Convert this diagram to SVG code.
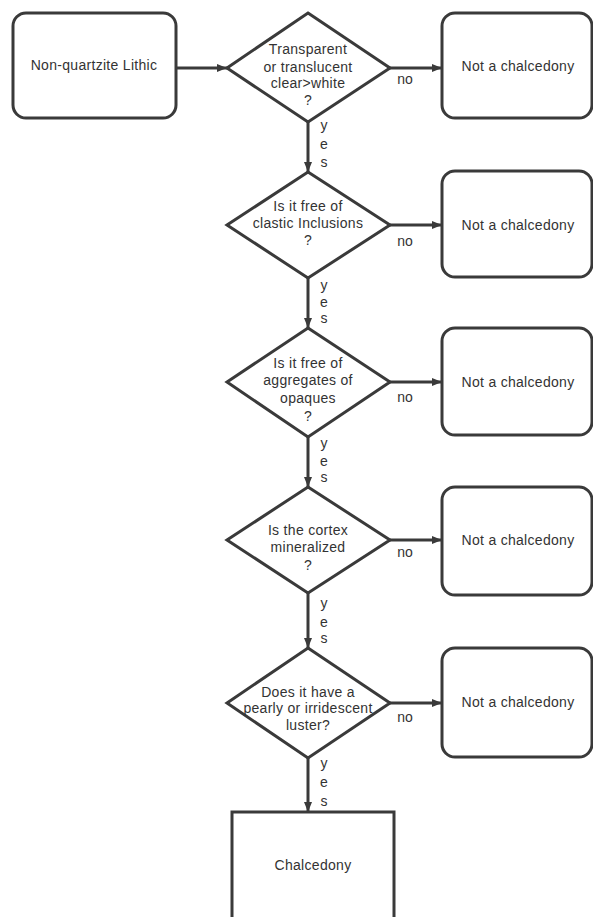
<svg xmlns="http://www.w3.org/2000/svg" width="593" height="917" viewBox="0 0 593 917">
<style>
.box{fill:#fff;stroke:#3a3a3a;stroke-width:3}
.dia{fill:#fff;stroke:#3a3a3a;stroke-width:3;stroke-linejoin:miter}
.t{font-family:"Liberation Sans",Arial,sans-serif;font-size:14px;fill:#333;text-anchor:middle;letter-spacing:0.3px}
.lbl{font-family:"Liberation Sans",Arial,sans-serif;font-size:14px;fill:#333;text-anchor:middle}
.edge{stroke:#3a3a3a;stroke-width:3;fill:none}
</style>
<defs>
<marker id="ah" markerWidth="10" markerHeight="8" refX="10" refY="4" orient="auto" markerUnits="userSpaceOnUse">
<path d="M0,0 L10,4 L0,8 Z" fill="#3a3a3a"/>
</marker>
</defs>
<rect width="593" height="917" fill="#fff"/>

<g id="start">
<rect class="box" x="13" y="13" width="163" height="105" rx="13"/>
<text class="t" x="94" y="70">Non-quartzite Lithic</text>
</g>

<g id="d1">
<polygon class="dia" points="308,13 390,68 308,122 227,68"/>
<text class="t" x="308" y="54">Transparent</text>
<text class="t" x="308" y="72">or translucent</text>
<text class="t" x="308" y="88">clear&gt;white</text>
<text class="t" x="308" y="105">?</text>
</g>

<g id="d2">
<polygon class="dia" points="308,172 390,225 308,278 227,225"/>
<text class="t" x="308" y="211">Is it free of</text>
<text class="t" x="308" y="228">clastic Inclusions</text>
<text class="t" x="308" y="245">?</text>
</g>

<g id="d3">
<polygon class="dia" points="308,328 390,382 308,437 227,382"/>
<text class="t" x="308" y="368">Is it free of</text>
<text class="t" x="308" y="385">aggregates of</text>
<text class="t" x="308" y="403">opaques</text>
<text class="t" x="308" y="421">?</text>
</g>

<g id="d4">
<polygon class="dia" points="308,487 390,540 308,593 227,540"/>
<text class="t" x="308" y="535">Is the cortex</text>
<text class="t" x="308" y="552">mineralized</text>
<text class="t" x="308" y="570">?</text>
</g>

<g id="d5">
<polygon class="dia" points="308,648 390,703 308,758 227,703"/>
<text class="t" x="308" y="697">Does it have a</text>
<text class="t" x="308" y="713">pearly or irridescent</text>
<text class="t" x="308" y="730">luster?</text>
</g>

<g id="n1">
<rect class="box" x="442" y="13" width="150" height="105" rx="13"/>
<text class="t" x="518" y="71">Not a chalcedony</text>
</g>
<g id="n2">
<rect class="box" x="442" y="171" width="150" height="106" rx="13"/>
<text class="t" x="518" y="230">Not a chalcedony</text>
</g>
<g id="n3">
<rect class="box" x="442" y="328" width="150" height="107" rx="13"/>
<text class="t" x="518" y="387">Not a chalcedony</text>
</g>
<g id="n4">
<rect class="box" x="442" y="487" width="150" height="108" rx="13"/>
<text class="t" x="518" y="545">Not a chalcedony</text>
</g>
<g id="n5">
<rect class="box" x="442" y="648" width="150" height="109" rx="13"/>
<text class="t" x="518" y="707">Not a chalcedony</text>
</g>

<g id="chalcedony">
<rect class="box" x="232" y="812" width="162" height="120"/>
<text class="t" x="313" y="870">Chalcedony</text>
</g>

<g id="connectors">
<line class="edge" x1="176" y1="68" x2="227" y2="68" marker-end="url(#ah)"/>
<line class="edge" x1="390" y1="68" x2="442" y2="68" marker-end="url(#ah)"/>
<line class="edge" x1="390" y1="225" x2="442" y2="225" marker-end="url(#ah)"/>
<line class="edge" x1="390" y1="382" x2="442" y2="382" marker-end="url(#ah)"/>
<line class="edge" x1="390" y1="540" x2="442" y2="540" marker-end="url(#ah)"/>
<line class="edge" x1="390" y1="703" x2="442" y2="703" marker-end="url(#ah)"/>
<line class="edge" x1="308" y1="122" x2="308" y2="172" marker-end="url(#ah)"/>
<line class="edge" x1="308" y1="278" x2="308" y2="328" marker-end="url(#ah)"/>
<line class="edge" x1="308" y1="437" x2="308" y2="487" marker-end="url(#ah)"/>
<line class="edge" x1="308" y1="593" x2="308" y2="648" marker-end="url(#ah)"/>
<line class="edge" x1="308" y1="758" x2="308" y2="812" marker-end="url(#ah)"/>
<text class="lbl" x="405" y="84">no</text>
<text class="lbl" x="405" y="246">no</text>
<text class="lbl" x="405" y="402">no</text>
<text class="lbl" x="405" y="557">no</text>
<text class="lbl" x="405" y="722">no</text>
<text class="lbl" x="324" y="130">y</text>
<text class="lbl" x="324" y="149">e</text>
<text class="lbl" x="324" y="167">s</text>
<text class="lbl" x="324" y="290">y</text>
<text class="lbl" x="324" y="307">e</text>
<text class="lbl" x="324" y="323">s</text>
<text class="lbl" x="324" y="448">y</text>
<text class="lbl" x="324" y="466">e</text>
<text class="lbl" x="324" y="482">s</text>
<text class="lbl" x="324" y="608">y</text>
<text class="lbl" x="324" y="627">e</text>
<text class="lbl" x="324" y="643">s</text>
<text class="lbl" x="324" y="768">y</text>
<text class="lbl" x="324" y="787">e</text>
<text class="lbl" x="324" y="806">s</text>
</g>
</svg>
